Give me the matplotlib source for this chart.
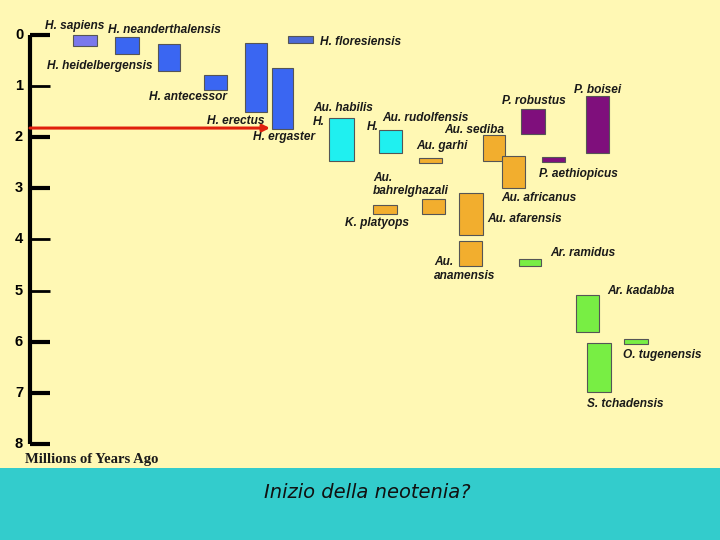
import matplotlib.pyplot as plt
from matplotlib.patches import Rectangle

# --- data: species ranges (millions of years ago) --------------------------
species = ["H. sapiens", "H. neanderthalensis", "H. heidelbergensis", "H. antecessor",
           "H. erectus", "H. ergaster", "H. floresiensis", "Au. habilis",
           "H. rudolfensis", "Au. garhi", "Au. sediba", "Au. africanus",
           "P. robustus", "P. aethiopicus", "P. boisei", "Au. bahrelghazali",
           "K. platyops", "Au. afarensis", "Au. anamensis", "Ar. ramidus",
           "Ar. kadabba", "O. tugenensis", "S. tchadensis"]
column = [73, 115, 158, 204, 245, 272, 288, 329, 379, 419, 483, 502,
          521, 542, 586, 422, 373, 459, 459, 519, 576, 624, 587]
width = [24, 24, 22, 23, 22, 21, 25, 25, 23, 23, 22, 23,
         24, 23, 23, 23, 24, 24, 23, 22, 23, 24, 24]
young = [0.0, 0.04, 0.18, 0.78, 0.15, 0.64, 0.02, 1.62, 1.85, 2.40, 1.96, 2.37,
         1.44, 2.39, 1.20, 3.21, 3.33, 3.10, 4.02, 4.38, 5.09, 5.94, 6.03]
old = [0.21, 0.37, 0.71, 1.08, 1.50, 1.84, 0.15, 2.47, 2.31, 2.51, 2.47, 3.00,
       1.94, 2.49, 2.31, 3.51, 3.51, 3.92, 4.51, 4.51, 5.80, 6.05, 6.99]
group = ["sapiens", "homo", "homo", "homo", "homo", "homo", "flores", "habilis",
         "habilis", "austr", "austr", "austr", "paran", "paran", "paran", "austr",
         "austr", "austr", "austr", "ardi", "ardi", "ardi", "ardi"]

labels = ["H. sapiens", "H. neanderthalensis", "H. heidelbergensis", "H. antecessor",
          "H. erectus", "H. ergaster", "H. floresiensis", "Au. habilis", "H.",
          "H.", "Au. rudolfensis", "Au. sediba", "Au. garhi", "P. robustus",
          "P. boisei", "P. aethiopicus", "Au.\nbahrelghazali", "Au. africanus",
          "K. platyops", "Au. afarensis", "Ar. ramidus", "Au.\nanamensis",
          "Ar. kadabba", "O. tugenensis", "S. tchadensis"]
label_x = [45, 108, 47, 149, 207, 253, 320, 313, 313, 367, 382, 444, 416, 502,
           574, 539, 373, 501, 345, 487, 550, 434, 607, 623, 587]
label_y = [-0.18, -0.10, 0.61, 1.21, 1.68, 2.0, 0.14, 1.43, 1.70, 1.80, 1.62,
           1.86, 2.17, 1.29, 1.08, 2.72, 2.92, 3.19, 3.68, 3.60, 4.27, 4.58,
           5.01, 6.26, 7.22]

ticks = [0, 1, 2, 3, 4, 5, 6, 7, 8]
tick_lw = [3, 2, 3, 3, 2, 2, 3, 3, 3]
arrow_mya = 1.82

colors = {"sapiens": "#7a78ec", "homo": "#3a66f2", "flores": "#4c6ad6",
          "habilis": "#1ff0f0", "austr": "#f2ae2e", "paran": "#7f0f7c",
          "ardi": "#78ee44"}

fig = plt.figure(figsize=(7.2, 5.4), dpi=100)
fig.patch.set_facecolor("#33cccc")
ax = fig.add_axes([0, 72 / 540, 1, 468 / 540])
ax.set_facecolor("#fff8b4")
ax.set_xlim(0, 720)
ax.set_ylim(8.47, -0.685)
ax.axis("off")
ax.add_patch(Rectangle((0, -0.685), 720, 9.2, facecolor="#fff8b4", zorder=0))

for c, w, y0, y1, g in zip(column, width, young, old, group):
    ax.add_patch(Rectangle((c, y0), w, y1 - y0, facecolor=colors[g],
                           edgecolor="#555555", linewidth=0.8, zorder=2))

font = dict(fontsize=8.6, fontweight="bold", style="italic",
            family="Liberation Sans", color="#1a1a1a", va="center",
            linespacing=1.15, zorder=3)
for t, x, y in zip(labels, label_x, label_y):
    ax.text(x, y, t, ha="left", **font)

# time axis
ax.plot([30, 30], [ticks[0], ticks[-1]], color="black", lw=3, zorder=3,
        solid_capstyle="butt")
for t, lw in zip(ticks, tick_lw):
    ax.plot([30, 50], [t, t], color="black", lw=lw, zorder=3,
            solid_capstyle="butt")
    ax.text(19, t, str(t), ha="center", va="center", fontsize=10.5,
            fontweight="bold", family="Liberation Sans")
ax.text(25, 8.31, "Millions of Years Ago", ha="left", va="center", fontsize=10.5,
        fontweight="bold", family="Liberation Serif", color="#1a1a1a")

# red arrow
ax.annotate("", xy=(270, arrow_mya), xytext=(30, arrow_mya),
            arrowprops=dict(arrowstyle="-|>", color="#e0200c", lw=2.2,
                            mutation_scale=10, shrinkA=0, shrinkB=0), zorder=4)

fig.text(367 / 720, 1 - 493 / 540, "Inizio della neotenia?", ha="center",
         va="center", fontsize=14, style="italic", family="DejaVu Sans",
         color="#111111")

fig.savefig("out.png", dpi=100, facecolor=fig.get_facecolor())
